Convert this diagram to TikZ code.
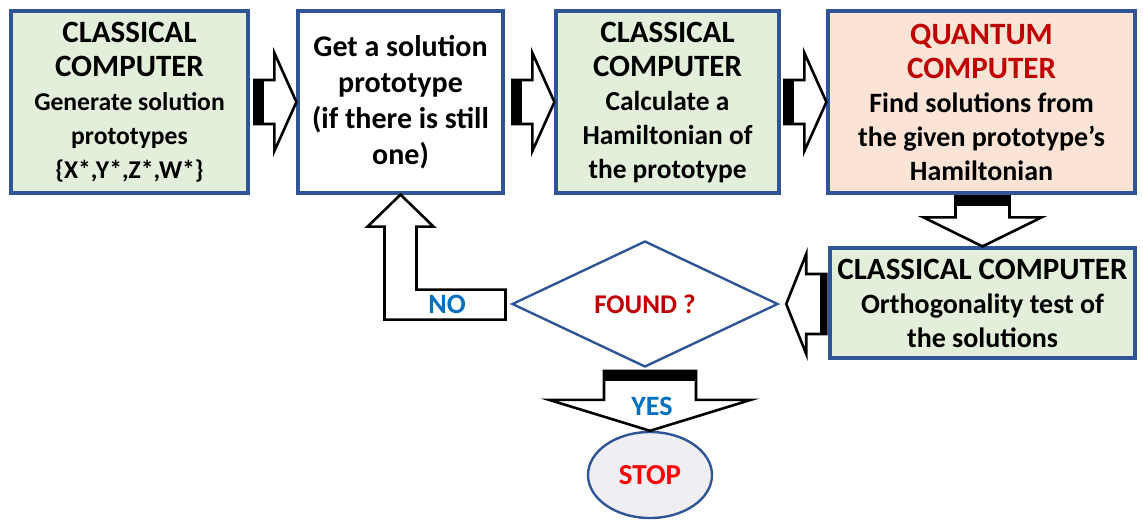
\documentclass[tikz,border=0pt]{standalone}
\usepackage{fontspec}
\setmainfont{Carlito}
\usetikzlibrary{shapes.geometric}

\definecolor{boxgreen}{HTML}{E2EFDA}
\definecolor{boxpink}{HTML}{FBE4D5}
\definecolor{boxblue}{HTML}{2F5597}
\definecolor{darkred}{HTML}{C00000}
\definecolor{labelblue}{HTML}{0070C0}
\definecolor{stopgray}{HTML}{EEEEF3}

\newcommand{\headtxt}[1]{{\fontsize{15.5}{17}\selectfont #1}}

\begin{document}
\begin{tikzpicture}[x=0.5pt, y=-0.5pt, font=\bfseries\fontsize{13.5}{17}\selectfont]

\tikzset{
  box/.style={draw=boxblue, line width=1.6pt, rectangle, align=center, inner sep=0pt},
  gbox/.style={box, fill=boxgreen},
  pbox/.style={box, fill=boxpink},
  blk/.style={draw=black, fill=white, line width=1.3pt, line join=miter},
  lbl/.style={text=labelblue, font=\bfseries\fontsize{14}{17}\selectfont},
  rblk/.pic={
    \draw[blk] (0,0) -- (-22,-49) -- (-22,-22) -- (-42,-22) -- (-42,22) -- (-22,22) -- (-22,49) -- cycle;
    \fill (-42,-22) rectangle (-32,22);
  }
}

\useasboundingbox (0,0) rectangle (1143,520);

% Top row
\node[gbox, minimum width=118.5pt, minimum height=91pt,
  font=\bfseries\fontsize{12.8}{17}\selectfont] (gen) at (129.5,102)
  {\headtxt{CLASSICAL}\\\headtxt{COMPUTER}\\Generate solution\\prototypes\\\{X*,Y*,Z*,W*\}};
\node[box, fill=white, minimum width=102.5pt, minimum height=91pt,
  font=\bfseries\fontsize{15}{18}\selectfont] (proto) at (400.5,102)
  {Get a solution\\prototype\\(if there is still\\one)};
\node[gbox, minimum width=111.5pt, minimum height=91pt,
  font=\bfseries\fontsize{13.7}{17}\selectfont] (ham) at (667.5,102)
  {\headtxt{CLASSICAL}\\\headtxt{COMPUTER}\\Calculate a\\Hamiltonian of\\the prototype};
\node[pbox, minimum width=153.5pt, minimum height=91pt,
  font=\bfseries\fontsize{14}{17}\selectfont] (quant) at (981.5,102)
  {\headtxt{\textcolor{darkred}{QUANTUM}}\\\headtxt{\textcolor{darkred}{COMPUTER}}\\Find solutions from\\the given prototype’s\\Hamiltonian};

\pic at (proto.west) {rblk};
\pic at (ham.west) {rblk};
\pic at (quant.west) {rblk};

% Test of the solutions
\node[gbox, minimum width=152.5pt, minimum height=55pt,
  font=\bfseries\fontsize{14}{17}\selectfont] (orth) at (982.5,303)
  {\headtxt{CLASSICAL COMPUTER}\\Orthogonality test of\\the solutions};

\draw[blk, shift={(orth.north)}] (0,0) -- (-59,-29) -- (-27,-29) -- (-27,-50) -- (27,-50) -- (27,-29) -- (59,-29) -- cycle;
\fill[shift={(orth.north)}] (-27,-50) rectangle (27,-40);

% Decision
\node[diamond, draw=boxblue, line width=1.2pt, minimum width=133pt, minimum height=63pt, inner sep=0pt,
  text=darkred] (found) at (645,304) {FOUND ?};

\draw[blk, shift={(found.east)}] (7,0) -- (27,-50) -- (27,-30) -- (47,-30) -- (47,30) -- (27,30) -- (27,50) -- cycle;
\fill[shift={(found.east)}] (41,-30) rectangle (47,30);

% NO
\draw[blk, shift={(proto.south)}] (0,0) -- (33,32) -- (16,32) -- (16,95) -- (105,95) -- (105,125) -- (-16,125) -- (-16,32) -- (-33,32) -- cycle;
\node[lbl] (no) at (447,304) {NO};

% YES
\node[ellipse, draw=boxblue, line width=1.2pt, fill=stopgray, minimum width=62pt, minimum height=43pt,
  text=red, font=\bfseries\fontsize{14.5}{17}\selectfont] (stop) at (650,475) {STOP};

\draw[blk, shift={(stop.north)}] (0,0) -- (-101,-31) -- (-46,-31) -- (-46,-60) -- (46,-60) -- (46,-31) -- (101,-31) -- cycle;
\fill[shift={(stop.north)}] (-46,-60) rectangle (46,-50);
\node[lbl] (yes) at (652,406) {YES};

\end{tikzpicture}
\end{document}
